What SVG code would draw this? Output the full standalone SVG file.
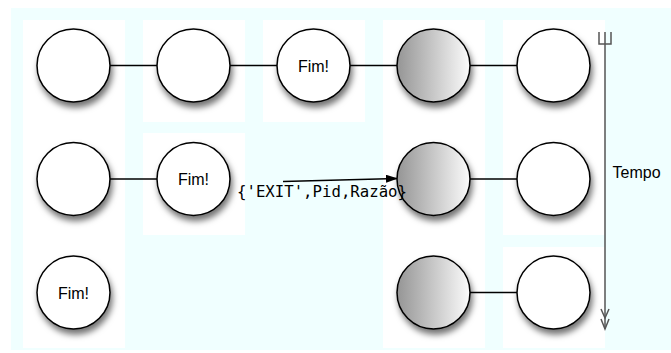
<svg xmlns="http://www.w3.org/2000/svg" width="671" height="353" viewBox="0 0 671 353">
<style>
.node{fill:#fff;stroke:#000;stroke-width:1.5;filter:url(#sh)}
.shade{fill:url(#gr)}
.lbl{font-family:"Liberation Sans",Arial,sans-serif;font-size:16px;fill:#000;text-anchor:middle}
.conn{stroke:#000;stroke-width:1.3;fill:none}
.panel{fill:#fff}
</style>
<defs>
<filter id="sh" x="-30%" y="-30%" width="170%" height="170%">
<feDropShadow dx="2" dy="5" stdDeviation="3" flood-color="#000" flood-opacity="0.55"/>
</filter>
<linearGradient id="gr" x1="0" y1="0" x2="1" y2="0">
<stop offset="0" stop-color="#959595"/>
<stop offset="1" stop-color="#fbfbfb"/>
</linearGradient>
<marker id="ah" markerWidth="12" markerHeight="8" refX="11" refY="4" orient="auto" markerUnits="userSpaceOnUse">
<path d="M0,0 L12,4 L0,8 Z" fill="#000"/>
</marker>
</defs>
<rect x="0" y="0" width="671" height="353" fill="#fff"/>
<rect x="11" y="8" width="660" height="342" fill="#f0ffff"/>
<g id="panels">
<rect class="panel" x="23" y="20" width="102" height="328"/>
<rect class="panel" x="143" y="20" width="102" height="102"/>
<rect class="panel" x="143" y="133" width="102" height="102"/>
<rect class="panel" x="263" y="20" width="102" height="102"/>
<rect class="panel" x="383" y="20" width="102" height="328"/>
<rect class="panel" x="503" y="20" width="102" height="215"/>
<rect class="panel" x="503" y="247" width="102" height="101"/>
</g>
<g id="connectors">
<line class="conn" x1="110" y1="65.5" x2="157" y2="65.5"/>
<line class="conn" x1="230" y1="65.5" x2="277" y2="65.5"/>
<line class="conn" x1="350" y1="65.5" x2="397" y2="65.5"/>
<line class="conn" x1="470" y1="65.5" x2="517" y2="65.5"/>
<line class="conn" x1="110" y1="179" x2="157" y2="179"/>
<line class="conn" x1="470" y1="179" x2="517" y2="179"/>
<line class="conn" x1="470" y1="292.5" x2="517" y2="292.5"/>
<line class="conn" x1="283" y1="181.5" x2="397" y2="178.5" marker-end="url(#ah)"/>
</g>
<g id="n11"><circle class="node" cx="73.5" cy="65.5" r="36.5"/></g>
<g id="n12"><circle class="node" cx="193.5" cy="65.5" r="36.5"/></g>
<g id="n13"><circle class="node" cx="313.5" cy="65.5" r="36.5"/><text class="lbl" x="313.5" y="71.5">Fim!</text></g>
<g id="n14"><circle class="node shade" cx="433.5" cy="65.5" r="36.5"/></g>
<g id="n15"><circle class="node" cx="553.5" cy="65.5" r="36.5"/></g>
<g id="n21"><circle class="node" cx="73.5" cy="179" r="36.5"/></g>
<g id="n22"><circle class="node" cx="193.5" cy="179" r="36.5"/><text class="lbl" x="193.5" y="185">Fim!</text></g>
<g id="n24"><circle class="node shade" cx="433.5" cy="179" r="36.5"/></g>
<g id="n25"><circle class="node" cx="553.5" cy="179" r="36.5"/></g>
<g id="n31"><circle class="node" cx="73.5" cy="292.5" r="36.5"/><text class="lbl" x="73.5" y="298.5">Fim!</text></g>
<g id="n34"><circle class="node shade" cx="433.5" cy="292.5" r="36.5"/></g>
<g id="n35"><circle class="node" cx="553.5" cy="292.5" r="36.5"/></g>
<text x="237" y="197" font-family="'DejaVu Sans Mono',monospace" font-size="16" textLength="170" lengthAdjust="spacingAndGlyphs">{'EXIT',Pid,Razão}</text>
<g id="axis" stroke="#555" stroke-width="1.5" fill="none">
<line x1="605" y1="32" x2="605" y2="329"/>
<path d="M599,32 V44 H611 V32"/>
<path d="M601,309 L605,318 L609,309 M601,319 L605,329 L609,319"/>
</g>
<text x="612.5" y="178" font-family="'Liberation Sans',Arial,sans-serif" font-size="16">Tempo</text>
</svg>
